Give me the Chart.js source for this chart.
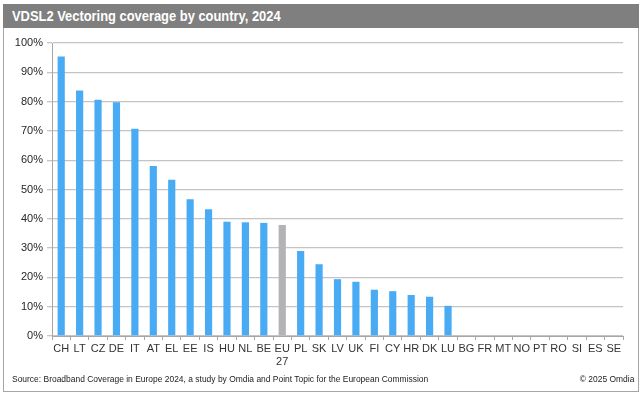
<!DOCTYPE html>
<html>
<head>
<meta charset="utf-8">
<script src="https://cdn.jsdelivr.net/npm/chart.js@4/dist/chart.umd.min.js"></script>
<style>
  html, body { margin: 0; padding: 0; background: #fff; }
  #wrap { position: relative; width: 643px; height: 396px; overflow: hidden; }
  #frame { position: absolute; left: 3px; top: 4px; width: 634px; height: 386px; border: 1px solid #a6a6a6; }
  #title { position: absolute; left: 3px; top: 4px; width: 636px; height: 24px; background: #7f7f7f;
    line-height: 24px; box-sizing: border-box; padding-left: 9px; }
  #title span { display: inline-block; color: #fff; font: bold 15px "Liberation Sans", Arial, sans-serif;
    transform: scaleX(0.86); transform-origin: left center; white-space: nowrap; }
  #chartBox { position: absolute; left: 0; top: 0; width: 643px; height: 370px; }
  .foot { position: absolute; top: 368px; white-space: nowrap; }
  .foot span { display: inline-block; font: 9.5px "Liberation Sans", Arial, sans-serif; color: #222;
    transform: scaleX(0.89); }
  #source { left: 12px; }
  #source span { transform-origin: left center; }
  #copy { right: 9px; }
  #copy span { transform-origin: right center; }
</style>
</head>
<body>
<div id="wrap">
  <div id="frame"></div>
  <div id="title"><span>VDSL2 Vectoring coverage by country, 2024</span></div>
  <div id="chartBox"><canvas id="coverageChart" width="643" height="370"></canvas></div>
  <div class="foot" id="source"><span>Source: Broadband Coverage in Europe 2024, a study by Omdia and Point Topic for the European Commission</span></div>
  <div class="foot" id="copy"><span>© 2025 Omdia</span></div>
</div>
<script>
// country codes along the x axis
const countries = ['CH', 'LT', 'CZ', 'DE', 'IT', 'AT', 'EL', 'EE', 'IS', 'HU', 'NL', 'BE', ['EU', '27'], 'PL', 'SK',
  'LV', 'UK', 'FI', 'CY', 'HR', 'DK', 'LU', 'BG', 'FR', 'MT', 'NO', 'PT', 'RO', 'SI', 'ES', 'SE'];

// VDSL2 vectoring coverage, % of households
const coverage = [95.4, 83.8, 80.6, 79.8, 70.7, 58.0, 53.3, 46.7, 43.3, 39.0, 38.8, 38.6, 37.9, 29.0, 24.5,
  19.4, 18.5, 15.8, 15.3, 14.0, 13.4, 10.3, 0, 0, 0, 0, 0, 0, 0, 0, 0];

const yTicks = [0, 10, 20, 30, 40, 50, 60, 70, 80, 90, 100];

const BLUE = '#4aabf5';
const GREY = '#b3b3b5';

function buildChart() {
  const ctx = document.getElementById('coverageChart').getContext('2d');
  const colors = countries.map(c => Array.isArray(c) ? GREY : BLUE);

  new Chart(ctx, {
    type: 'bar',
    data: {
      labels: countries,
      datasets: [{
        data: coverage,
        backgroundColor: colors,
        borderWidth: 0,
        categoryPercentage: 1,
        barPercentage: 0.39
      }]
    },
    options: {
      responsive: false,
      animation: false,
      layout: { padding: { left: 0, right: 20, top: 43, bottom: 0 } },
      plugins: { legend: { display: false }, tooltip: { enabled: false } },
      scales: {
        x: {
          afterFit: s => { s.height = 34; },
          grid: { drawOnChartArea: false, drawTicks: true, tickLength: 4, color: '#a6a6a6', offset: true },
          border: { color: '#a6a6a6' },
          ticks: {
            autoSkip: false, maxRotation: 0, padding: 2, color: '#333',
            font: { family: 'Liberation Sans', size: 11, lineHeight: 1.2 }
          }
        },
        y: {
          min: 0, max: 100,
          afterFit: s => { s.width = 52; },
          afterBuildTicks: s => { s.ticks = yTicks.map(v => ({ value: v })); },
          grid: { color: '#c4c4c4', lineWidth: 1.3, tickLength: 5, drawTicks: true },
          border: { color: '#a6a6a6' },
          ticks: {
            padding: 4, color: '#262626',
            font: { family: 'Liberation Sans', size: 11 },
            callback: v => v + '%'
          }
        }
      }
    }
  });
}

buildChart();
</script>
</body>
</html>
